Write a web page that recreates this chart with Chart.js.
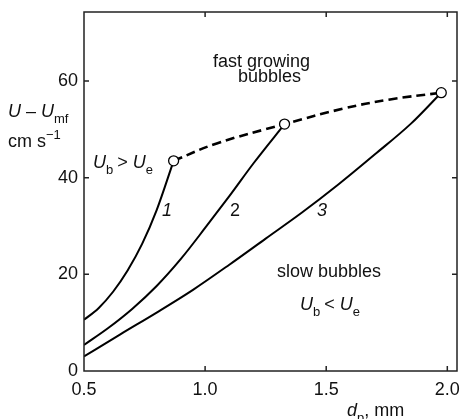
<!DOCTYPE html>
<html>
<head>
<meta charset="utf-8">
<script src="https://cdn.jsdelivr.net/npm/chart.js@4.4.0/dist/chart.umd.min.js"></script>
<style>
  html, body { margin: 0; padding: 0; background: #fff; }
  #wrap { width: 465px; height: 419px; }
</style>
</head>
<body>
<div id="wrap"><canvas id="chart" width="465" height="419"></canvas></div>
<script>
// data: d_p (mm) vs U - Umf (cm/s)
const xTicks = [0.5, 1.0, 1.5, 2.0];
const yTicks = [0, 20, 40, 60];

const d1 = [0.5, 0.56, 0.62, 0.68, 0.74, 0.8, 0.87];
const u1 = [10.6, 13.0, 16.4, 20.8, 26.3, 33.3, 43.5];

const d2 = [0.5, 0.6, 0.7, 0.8, 0.9, 1.0, 1.1, 1.2, 1.328];
const u2 = [5.4, 8.9, 12.9, 17.6, 23.2, 29.6, 36.2, 43.0, 51.1];

const d3 = [0.5, 0.65, 0.8, 0.95, 1.1, 1.25, 1.4, 1.55, 1.7, 1.85, 1.975];
const u3 = [3.0, 7.6, 12.1, 16.8, 22.0, 27.4, 32.8, 38.6, 44.8, 51.2, 57.6];

// dashed boundary U_b = U_e
const dB = [0.87, 1.048, 1.328, 1.57, 1.764, 1.975];
const uB = [43.5, 47.1, 51.1, 54.3, 56.2, 57.6];

// open circles at the ends of the curves
const dM = [0.87, 1.328, 1.975];
const uM = [43.5, 51.1, 57.6];

const pts = (xs, ys) => xs.map((x, i) => ({ x, y: ys[i] }));

const FONT = '"Liberation Sans", Arial, Helvetica, sans-serif';
const INK = '#111';

// draws text made of pieces: { t, i (italic), sub, sup }
function richText(ctx, parts, x, y, size) {
    let cx = x;
    parts.forEach(p => {
        const small = p.sub || p.sup;
        const fs = small ? Math.round(size * 0.72) : size;
        ctx.font = `${p.i ? 'italic ' : ''}${fs}px ${FONT}`;
        const dy = p.sub ? size * 0.33 : (p.sup ? -size * 0.45 : 0);
        ctx.fillText(p.t, cx, y + dy);
        cx += ctx.measureText(p.t).width + (p.gap || 0);
    });
}

const framePlugin = {
    id: 'frame',
    afterDatasetsDraw(chart) {
        const { ctx, chartArea: a, scales: { x, y } } = chart;
        ctx.save();
        ctx.strokeStyle = '#222';
        ctx.lineWidth = 1.5;
        ctx.strokeRect(a.left, a.top, a.right - a.left, a.bottom - a.top);
        const tl = 5;
        ctx.beginPath();
        xTicks.forEach(v => {
            const px = x.getPixelForValue(v);
            if (px <= a.left + 1) return;
            ctx.moveTo(px, a.bottom); ctx.lineTo(px, a.bottom - tl);
            ctx.moveTo(px, a.top); ctx.lineTo(px, a.top + tl);
        });
        yTicks.forEach(v => {
            const py = y.getPixelForValue(v);
            if (py >= a.bottom - 1) return;
            ctx.moveTo(a.left, py); ctx.lineTo(a.left + tl, py);
            ctx.moveTo(a.right, py); ctx.lineTo(a.right - tl, py);
        });
        ctx.stroke();
        ctx.restore();
    },
    afterDraw(chart) {
        const ctx = chart.ctx;
        ctx.save();
        ctx.fillStyle = INK;
        ctx.textBaseline = 'alphabetic';
        ctx.textAlign = 'left';
        const S = 18;

        // axis titles
        richText(ctx, [{ t: 'U', i: true }, { t: ' \u2013 ' }, { t: 'U', i: true }, { t: 'mf', sub: true }], 8, 117, S);
        richText(ctx, [{ t: 'cm s' }, { t: '\u22121', sup: true }], 8, 147, S);
        richText(ctx, [{ t: 'd', i: true }, { t: 'p', sub: true }, { t: ', mm' }], 347, 416, S);

        // region notes
        richText(ctx, [{ t: 'fast growing' }], 213, 67, S);
        richText(ctx, [{ t: 'bubbles' }], 238, 82, S);
        richText(ctx, [{ t: 'slow bubbles' }], 277, 277, S);
        richText(ctx, [{ t: 'U', i: true }, { t: 'b', sub: true, gap: 4 }, { t: '< ' }, { t: 'U', i: true }, { t: 'e', sub: true }], 300, 310, S);
        richText(ctx, [{ t: 'U', i: true }, { t: 'b', sub: true, gap: 4 }, { t: '> ' }, { t: 'U', i: true }, { t: 'e', sub: true }], 93, 168, S);

        // curve numbers
        richText(ctx, [{ t: '1', i: true }], 162, 216, S);
        richText(ctx, [{ t: '2' }], 230, 216, S);
        richText(ctx, [{ t: '3', i: true }], 317, 216, S);
        ctx.restore();
    }
};

const curve = (data) => ({
    data, showLine: true, pointRadius: 0, borderColor: '#000', borderWidth: 2,
    cubicInterpolationMode: 'monotone', fill: false
});

new Chart(document.getElementById('chart'), {
    type: 'scatter',
    data: {
        datasets: [
            {
                data: pts(dM, uM), showLine: false, pointRadius: 5, pointHoverRadius: 5,
                pointBackgroundColor: '#fff', pointBorderColor: '#000', pointBorderWidth: 1.3
            },
            {
                data: pts(dB, uB), showLine: true, pointRadius: 0, borderColor: '#000',
                borderWidth: 2.6, borderDash: [9, 5], tension: 0.4, fill: false
            },
            curve(pts(d1, u1)),
            curve(pts(d2, u2)),
            curve(pts(d3, u3))
        ]
    },
    options: {
        responsive: false,
        animation: false,
        events: [],
        layout: { padding: { top: 12, right: 8, left: 0, bottom: 0 } },
        plugins: { legend: { display: false }, tooltip: { enabled: false } },
        scales: {
            x: {
                type: 'linear', min: 0.5, max: 2.04,
                afterBuildTicks: s => { s.ticks = xTicks.map(v => ({ value: v })); },
                afterFit: s => { s.height = 48; s.paddingLeft = 0; s.paddingRight = 0; },
                grid: { display: false, drawTicks: false },
                border: { display: false },
                ticks: {
                    color: INK, padding: 8, maxRotation: 0,
                    font: { family: FONT, size: 18 },
                    callback: v => v.toFixed(1)
                }
            },
            y: {
                type: 'linear', min: 0, max: 74.3,
                afterBuildTicks: s => { s.ticks = yTicks.map(v => ({ value: v })); },
                afterFit: s => { s.width = 84; s.paddingTop = 0; s.paddingBottom = 0; },
                grid: { display: false, drawTicks: false },
                border: { display: false },
                ticks: {
                    color: INK, padding: 6,
                    font: { family: FONT, size: 18 }
                }
            }
        }
    },
    plugins: [framePlugin]
});
</script>
</body>
</html>
